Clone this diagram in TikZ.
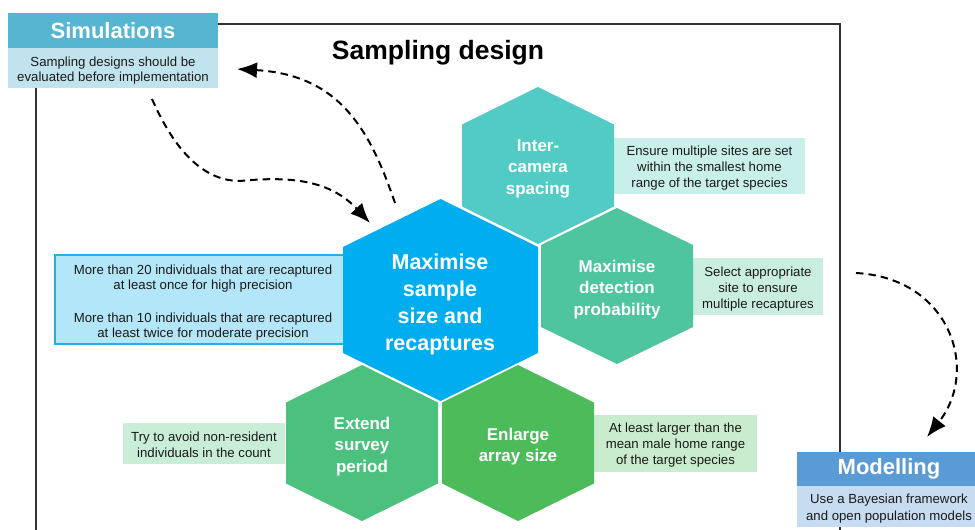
\documentclass[tikz,border=0pt]{standalone}
\usepackage{fontspec}
\setmainfont{Liberation Sans}
\usetikzlibrary{arrows.meta}
\definecolor{simhead}{HTML}{56B5D0}
\definecolor{simbody}{HTML}{C1E3EE}
\definecolor{modhead}{HTML}{5B9BD5}
\definecolor{modbody}{HTML}{C7DCF0}
\definecolor{hexblue}{HTML}{00AEEF}
\definecolor{hexteal}{HTML}{52CBC4}
\definecolor{hexdet}{HTML}{4FC59F}
\definecolor{hexext}{HTML}{4CC17E}
\definecolor{hexenl}{HTML}{4CBB5A}
\definecolor{boxteal}{HTML}{C9EFEB}
\definecolor{boxdet}{HTML}{C9EEE0}
\definecolor{boxext}{HTML}{C9EDD7}
\definecolor{boxenl}{HTML}{C9ECCE}
\definecolor{boxblue}{HTML}{B3E6F8}
\definecolor{boxblueline}{HTML}{27AEE5}
\definecolor{framecol}{HTML}{333333}
\definecolor{txt}{HTML}{1A1A1A}
\newcommand{\myfs}[2]{\fontsize{#1}{#2}\selectfont}
\newcommand{\hexshape}[6]{%
  \fill[#6] (#1,#2-#4) -- (#1+#3,#2-#5) -- (#1+#3,#2+#5) -- (#1,#2+#4)
    -- (#1-#3,#2+#5) -- (#1-#3,#2-#5) -- cycle;}
\begin{document}
\begin{tikzpicture}[x={(1pt,0)}, y={(0,-1pt)},
  hexlab/.style={text=white, font=\bfseries\myfs{17}{21.5}, align=center, inner sep=0pt},
  biglab/.style={text=white, font=\bfseries\myfs{21.5}{27}, align=center, inner sep=0pt},
  note/.style={text=txt, font=\myfs{13.2}{16}, align=center, inner sep=0pt},
  notebox/.style={inner sep=0pt},
  head/.style={text=white, font=\bfseries\myfs{22}{26}, inner sep=0pt},
  dasharrow/.style={draw=black, line width=2pt, dash pattern=on 7.5pt off 5pt,
    -{Latex[length=20pt,width=16pt]}}]
\useasboundingbox (0,0) rectangle (975,530);
% frame
\draw[framecol, line width=1.2pt] (218,24) -- (840,24) -- (840,530);
\draw[framecol, line width=1.2pt] (36,88) -- (36,530);
% note boxes
\node[notebox, fill=boxblue, draw=boxblueline, line width=1.5pt, minimum width=296, minimum height=89] (leftbox) at (203,299.5) {};
\node[notebox, fill=boxteal, minimum width=191, minimum height=56] (tealbox) at (709.5,166) {};
\node[notebox, fill=boxdet, minimum width=130, minimum height=57] (detbox) at (758,286.5) {};
\node[notebox, fill=boxext, minimum width=162, minimum height=41] (extbox) at (204,443.5) {};
\node[notebox, fill=boxenl, minimum width=163, minimum height=57] (enlbox) at (675.5,443.5) {};
% note texts
\node[note, font=\myfs{13.2}{15}] (leftnote) at ([yshift=-3.5pt]leftbox.center)
  {More than 20 individuals that are recaptured\\at least once for high precision\\[18pt]
   More than 10 individuals that are recaptured\\at least twice for moderate precision};
\node[note] (tealnote) at ([yshift=-2.5pt]tealbox.center)
  {Ensure multiple sites are set\\within the smallest home\\range of the target species};
\node[note] (detnote) at ([yshift=-2.5pt]detbox.center)
  {Select appropriate\\site to ensure\\multiple recaptures};
\node[note] (extnote) at ([yshift=-1.5pt]extbox.center)
  {Try to avoid non-resident\\individuals in the count};
\node[note] (enlnote) at ([yshift=-2pt]enlbox.center)
  {At least larger than the\\mean male home range\\of the target species};
% hexagons
\hexshape{538}{165.5}{76}{78.5}{41}{hexteal}
\hexshape{617}{286}{76}{78}{41}{hexdet}
\hexshape{362}{443}{76}{78}{40.5}{hexext}
\hexshape{518}{443}{76}{78}{40.5}{hexenl}
\hexshape{440.5}{300}{97.5}{101}{53}{hexblue}
\node[biglab] (sample) at (440,304) {Maximise\\sample\\size and\\recaptures};
\node[hexlab] (spacing) at (538,168.5) {Inter-\\camera\\spacing};
\node[hexlab] (detect) at (617,289.5) {Maximise\\detection\\probability};
\node[hexlab] (extend) at (362,446.5) {Extend\\survey\\period};
\node[hexlab] (enlarge) at (518,446.5) {Enlarge\\array size};
% simulations
\node[head, fill=simhead, minimum width=210, minimum height=35] (simh) at (113,30.5) {Simulations};
\node[notebox, fill=simbody, minimum width=210, minimum height=40] (simb) at (113,68) {};
\node[note, font=\myfs{13.2}{15}] (simtext) at ([yshift=-2.5pt]simb.center)
  {Sampling designs should be\\evaluated before implementation};
% modelling
\node[head, fill=modhead, minimum width=184, minimum height=34] (modh) at (889,469) {Modelling};
\node[notebox, fill=modbody, minimum width=184, minimum height=41] (modb) at (889,506.5) {};
\node[note, font=\myfs{13.2}{17}] (modtext) at ([yshift=-2pt]modb.center)
  {Use a Bayesian framework\\and open population models};
% title
\node[font=\bfseries\myfs{26.5}{30}, text=black, inner sep=0pt] (title) at (438,53) {Sampling design};
% arrows
\coordinate (a1s) at (152,99);
\coordinate (a1e) at (370,223);
\coordinate (a2s) at (395,203);
\coordinate (a2e) at (237,69);
\coordinate (a3s) at (856,273);
\coordinate (a3e) at (927,437);
\draw[dasharrow] (a1s) .. controls (168,135) and (195,181) .. (240,181)
  .. controls (290,176) and (330,180) .. (a1e);
\draw[dasharrow] (a2s) .. controls (370,130) and (340,75) .. (a2e);
\draw[dasharrow] (a3s) .. controls (950,278) and (980,370) .. (a3e);
\end{tikzpicture}
\end{document}
